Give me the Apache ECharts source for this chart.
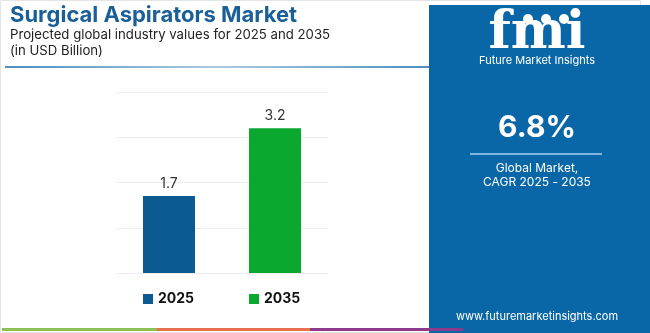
<!DOCTYPE html>
<html><head><meta charset="utf-8">
<script src="https://cdn.jsdelivr.net/npm/echarts@6/dist/echarts.min.js"></script>
<style>html,body{margin:0;padding:0;background:#fff;}#c{width:650px;height:333px;}</style>
</head><body><div id="c"></div>
<script>
const categories = ['2025', '2035'];
const seriesNames = ['2025', '2035'];
const values2025 = [1.7, '-'];
const values2035 = ['-', 3.2];
const yTicks = [0, 1, 2, 3, 4];
const cagrText = '6.8%';
const F = 'Inter, "Noto Sans", sans-serif';

const chart = echarts.init(document.getElementById('c'), null, {renderer: 'canvas'});
chart.setOption({
  backgroundColor: '#ffffff',
  animation: false,
  grid: {left: 116, right: 322, top: 92, bottom: 60},
  xAxis: {type: 'category', data: categories, axisLine: {show: false}, axisTick: {show: false}, axisLabel: {show: false}},
  yAxis: {type: 'value', min: yTicks[0], max: yTicks[yTicks.length - 1], interval: 1,
    axisLabel: {show: false}, axisLine: {show: false}, axisTick: {show: false},
    splitLine: {lineStyle: {color: '#ededed', width: 1}}},
  legend: {left: 143, top: 292, padding: 0, itemWidth: 10, itemHeight: 10, itemGap: 55, icon: 'rect',
    data: seriesNames,
    textStyle: {fontFamily: F, fontWeight: 'bold', fontSize: 14, color: '#111'}},
  series: [
    {name: seriesNames[0], type: 'bar', stack: 's', data: values2025, barWidth: 52,
      itemStyle: {color: '#0b5a92'},
      label: {show: true, position: 'top', distance: 5, fontFamily: F, fontSize: 14, color: '#333'}},
    {name: seriesNames[1], type: 'bar', stack: 's', data: values2035, barWidth: 52,
      itemStyle: {color: '#0aa82f'},
      label: {show: true, position: 'top', distance: 5, fontFamily: F, fontSize: 14, color: '#333'}}
  ],
  graphic: [
    {type: 'rect', shape: {x: 0.5, y: 0.5, width: 640, height: 332}, style: {fill: 'none', stroke: '#e4e4e4', lineWidth: 1}, silent: true},
    {type: 'text', left: 10, top: 4, style: {text: 'Surgical Aspirators Market', fontFamily: F, fontWeight: 'bold', fontSize: 22, fill: '#1b5f98'}},
    {type: 'text', left: 10, top: 29, style: {text: 'Projected global industry values for 2025 and 2035', fontFamily: F, fontSize: 13.2, fill: '#222'}},
    {type: 'text', left: 10, top: 45, style: {text: '(in USD Billion)', fontFamily: F, fontSize: 13.2, fill: '#222'}},
    {type: 'rect', shape: {x: 5, y: 66, width: 425, height: 2}, style: {fill: new echarts.graphic.LinearGradient(0, 0, 1, 0, [{offset: 0, color: '#4f8fbf'}, {offset: 0.5, color: '#a9cbe3'}, {offset: 1, color: '#4f8fbf'}])}},
    {type: 'rect', shape: {x: 429, y: 5, width: 221, height: 328}, style: {fill: '#0a67a7'}},
    {type: 'text', x: 537, y: 8, style: {text: 'fmi', fontFamily: '"DejaVu Serif", serif', fontWeight: 'bold', fontSize: 52, fill: '#ffffff', align: 'center'}},
    {type: 'circle', shape: {cx: 528, cy: 19, r: 5}, style: {fill: '#ffffff'}},
    {type: 'circle', shape: {cx: 546, cy: 19, r: 5}, style: {fill: '#ffffff'}},
    {type: 'circle', shape: {cx: 564, cy: 19, r: 5}, style: {fill: '#ffffff'}},
    {type: 'text', x: 537, y: 55, style: {text: 'Future Market Insights', fontFamily: F, fontSize: 11, fill: '#ffffff', align: 'center'}},
    {type: 'text', x: 537, y: 113, style: {text: cagrText, fontFamily: F, fontWeight: 'bold', fontSize: 30, fill: '#ffffff', align: 'center'}},
    {type: 'rect', shape: {x: 470, y: 153, width: 132, height: 2}, style: {fill: '#7fb5df'}},
    {type: 'text', x: 537, y: 162, style: {text: 'Global Market,', fontFamily: F, fontSize: 12, fill: '#ffffff', align: 'center'}},
    {type: 'text', x: 537, y: 176, style: {text: 'CAGR 2025 - 2035', fontFamily: F, fontSize: 12, fill: '#ffffff', align: 'center'}},
    {type: 'text', x: 537, y: 311, style: {text: 'www.futuremarketinsights.com', fontFamily: F, fontSize: 11, fill: '#ffffff', align: 'center'}},
    {type: 'rect', shape: {x: 2, y: 328, width: 155, height: 3}, style: {fill: '#8cc152'}},
    {type: 'rect', shape: {x: 157, y: 328, width: 153, height: 3}, style: {fill: '#e8704a'}},
    {type: 'rect', shape: {x: 310, y: 328, width: 153, height: 3}, style: {fill: '#8e3a8f'}}
  ]
});
</script></body></html>
